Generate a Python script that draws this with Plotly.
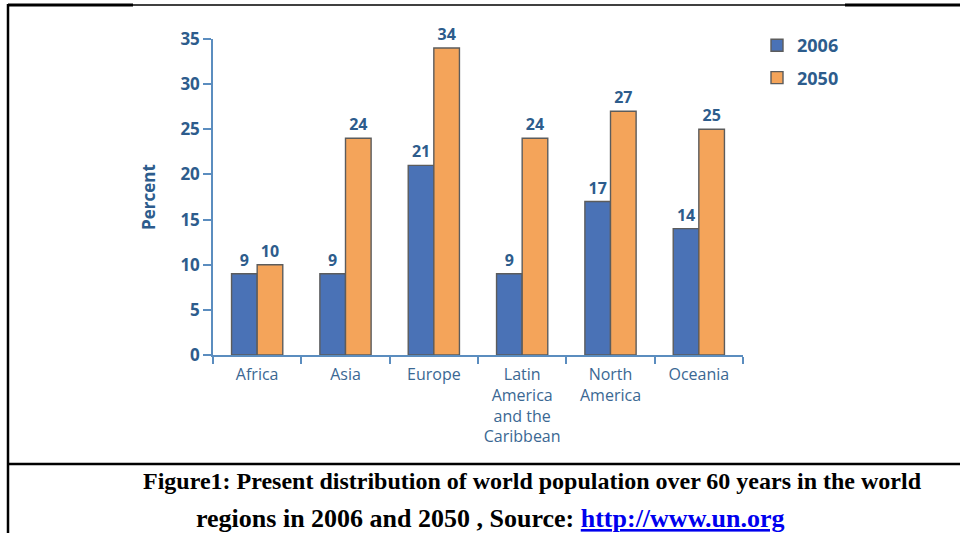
import plotly.graph_objects as go

# Share of population aged 60+ by world region
regions = ["Africa", "Asia", "Europe", "Latin<br>America<br>and the<br>Caribbean",
           "North<br>America", "Oceania"]
pct_2006 = [9, 9, 21, 9, 17, 14]
pct_2050 = [10, 24, 34, 24, 27, 25]
y_ticks = [0, 5, 10, 15, 20, 25, 30, 35]

W, H = 960, 533
# plot area in pixels
L, R, T, B = 213, 743, 39, 355

def px(x):
    return (x - L) / (R - L)

def py(y):
    return (B - y) / (B - T)

BLUE = "#4a72b6"
ORANGE = "#f4a45a"
EDGE = "#5c5c5c"
TXT = "#2d5c8c"
CAT = "#3b6893"
AXIS = "#5b8dbf"
FONT = "Open Sans"

fig = go.Figure()
fig.add_trace(go.Bar(
    x=regions, y=pct_2006, name="2006", legendgroup="a",
    marker=dict(color=BLUE, line=dict(color=EDGE, width=1.4)),
    text=pct_2006, textposition="outside", cliponaxis=False,
    textfont=dict(family=FONT, size=16, color=TXT, weight="bold"),
))
fig.add_trace(go.Bar(
    x=regions, y=pct_2050, name="2050", legendgroup="b",
    marker=dict(color=ORANGE, line=dict(color=EDGE, width=1.4)),
    text=pct_2050, textposition="outside", cliponaxis=False,
    textfont=dict(family=FONT, size=16, color=TXT, weight="bold"),
))

shapes = []
line_k = dict(type="line", xref="paper", yref="paper", layer="above")
# frame lines
shapes.append(dict(line_k, x0=px(8), x1=px(960), y0=py(5), y1=py(5),
                   line=dict(color="black", width=1.5)))
shapes.append(dict(line_k, x0=px(8), x1=px(133), y0=py(5), y1=py(5),
                   line=dict(color="black", width=3)))
shapes.append(dict(line_k, x0=px(845), x1=px(960), y0=py(5), y1=py(5),
                   line=dict(color="black", width=3)))
shapes.append(dict(line_k, x0=px(8), x1=px(8), y0=py(4), y1=py(533),
                   line=dict(color="black", width=2.5)))
shapes.append(dict(line_k, x0=px(8), x1=px(960), y0=py(464), y1=py(464),
                   line=dict(color="black", width=2.5)))

annotations = [
    dict(xref="paper", yref="paper", x=px(532), y=py(481), showarrow=False,
         xanchor="center", yanchor="middle",
         font=dict(family="Liberation Serif", size=24, color="black"),
         text="<b>Figure1: Present distribution of world population over 60 years in the world</b>"),
    dict(xref="paper", yref="paper", x=px(490), y=py(518), showarrow=False,
         xanchor="center", yanchor="middle",
         font=dict(family="Liberation Serif", size=26, color="black"),
         text="<b>regions in 2006 and 2050 , Source: "
              "<a href='http://www.un.org' style='color:#0000ee'><u>http://www.un.org</u></a></b>"),
]

fig.update_layout(
    width=W, height=H,
    margin=dict(l=L, r=W - R, t=T, b=H - B, pad=0),
    paper_bgcolor="white", plot_bgcolor="white",
    barmode="group", bargap=0.42, bargroupgap=0,
    font=dict(family=FONT, color=TXT),
    showlegend=True,
    legend=dict(x=px(757), y=py(27), xanchor="left", yanchor="top",
                font=dict(family=FONT, size=18, color=TXT, weight="bold"),
                tracegroupgap=6, bgcolor="rgba(0,0,0,0)", itemwidth=30),
    xaxis=dict(
        showline=True, linecolor=AXIS, linewidth=1.5,
        ticks="outside", tickson="boundaries", ticklen=7, tickcolor=AXIS,
        tickwidth=1.5, showgrid=False, zeroline=False, tickangle=0,
        ticklabelstandoff=4,
        tickfont=dict(family=FONT, size=16, color=CAT),
    ),
    yaxis=dict(
        range=[0, 35], tickvals=y_ticks, showline=True, linecolor=AXIS,
        linewidth=1.5, ticks="outside", ticklen=8, tickcolor=AXIS, tickwidth=1.5,
        showgrid=False, zeroline=False,
        tickfont=dict(family=FONT, size=17, color=TXT, weight="bold"),
        title=dict(text="Percent", standoff=20,
                   font=dict(family=FONT, size=17, color=TXT, weight="bold")),
    ),
    shapes=shapes,
    annotations=annotations,
)

fig.write_html("out.html")
